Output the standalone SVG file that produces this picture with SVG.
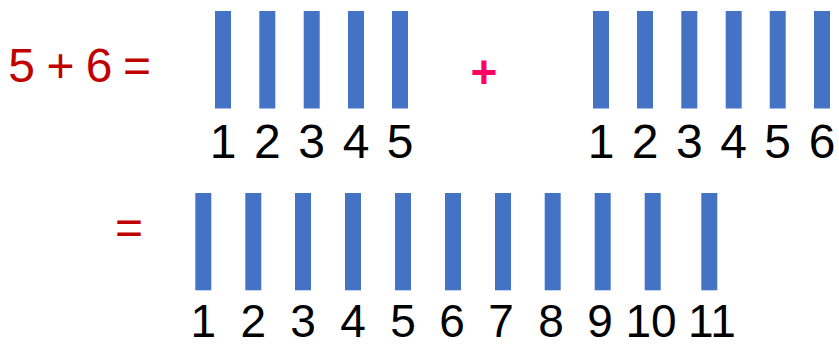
<svg xmlns="http://www.w3.org/2000/svg" width="839" height="347" viewBox="0 0 839 347">
<style>
.bar{fill:#4472C4}
.num{font-family:"Liberation Sans",Arial,sans-serif;font-size:48px;fill:#000;text-anchor:middle}
.num2{font-family:"Liberation Sans",Arial,sans-serif;font-size:46px;fill:#000;text-anchor:middle}
.red{font-family:"Liberation Sans",Arial,sans-serif;font-size:48px;fill:#C00000;text-anchor:middle}
.pink{font-family:"Liberation Sans",Arial,sans-serif;font-size:46px;font-weight:bold;fill:#FF0066;text-anchor:middle}
</style>
<rect width="839" height="347" fill="#fff"/>
<g id="equation">
<text class="red" x="21.5" y="82">5</text>
<text class="red" x="60.5" y="82">+</text>
<text class="red" x="99" y="82">6</text>
<text class="red" x="137" y="82">=</text>
</g>
<g id="group5">
<rect class="bar" x="215" y="11" width="16" height="97.5"/>
<rect class="bar" x="259.3" y="11" width="16" height="97.5"/>
<rect class="bar" x="303.7" y="11" width="16" height="97.5"/>
<rect class="bar" x="348" y="11" width="16" height="97.5"/>
<rect class="bar" x="392" y="11" width="16" height="97.5"/>
<text class="num" x="223" y="158">1</text>
<text class="num" x="267.3" y="158">2</text>
<text class="num" x="311.7" y="158">3</text>
<text class="num" x="356" y="158">4</text>
<text class="num" x="400" y="158">5</text>
</g>
<g id="plus">
<text class="pink" x="484" y="88">+</text>
</g>
<g id="group6">
<rect class="bar" x="593" y="11" width="16" height="97.5"/>
<rect class="bar" x="637" y="11" width="16" height="97.5"/>
<rect class="bar" x="681.3" y="11" width="16" height="97.5"/>
<rect class="bar" x="725.7" y="11" width="16" height="97.5"/>
<rect class="bar" x="769.7" y="11" width="16" height="97.5"/>
<rect class="bar" x="814" y="11" width="16" height="97.5"/>
<text class="num" x="601" y="158">1</text>
<text class="num" x="645" y="158">2</text>
<text class="num" x="689.3" y="158">3</text>
<text class="num" x="733.7" y="158">4</text>
<text class="num" x="777.7" y="158">5</text>
<text class="num" x="822" y="158">6</text>
</g>
<g id="equals">
<text class="red" x="129" y="244">=</text>
</g>
<g id="group11">
<rect class="bar" x="195.3" y="193" width="16" height="97.3"/>
<rect class="bar" x="245.3" y="193" width="16" height="97.3"/>
<rect class="bar" x="295" y="193" width="16" height="97.3"/>
<rect class="bar" x="345" y="193" width="16" height="97.3"/>
<rect class="bar" x="395" y="193" width="16" height="97.3"/>
<rect class="bar" x="445" y="193" width="16" height="97.3"/>
<rect class="bar" x="495" y="193" width="16" height="97.3"/>
<rect class="bar" x="544.7" y="193" width="16" height="97.3"/>
<rect class="bar" x="594.7" y="193" width="16" height="97.3"/>
<rect class="bar" x="644.7" y="193" width="16" height="97.3"/>
<rect class="bar" x="701.3" y="193" width="16" height="97.3"/>
<text class="num2" x="203.3" y="337">1</text>
<text class="num2" x="253.3" y="337">2</text>
<text class="num2" x="303" y="337">3</text>
<text class="num2" x="353" y="337">4</text>
<text class="num2" x="403" y="337">5</text>
<text class="num2" x="452" y="337">6</text>
<text class="num2" x="501" y="337">7</text>
<text class="num2" x="551" y="337">8</text>
<text class="num2" x="600" y="337">9</text>
<text class="num2" x="651" y="337">10</text>
<text class="num2" x="712" y="337">11</text>
</g>
</svg>
